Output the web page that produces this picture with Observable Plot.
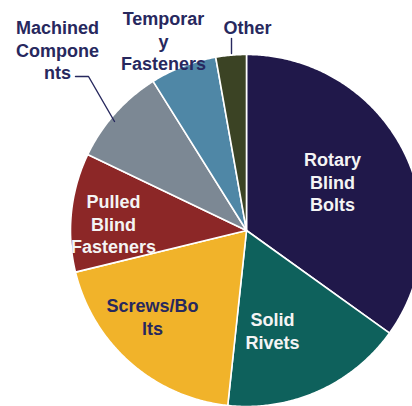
<!DOCTYPE html>
<html>
<head>
<meta charset="utf-8">
<script src="https://cdn.jsdelivr.net/npm/d3@7"></script>
<script src="https://cdn.jsdelivr.net/npm/@observablehq/plot@0.6"></script>
<style>
  html, body { margin: 0; padding: 0; background: #ffffff; }
  #chart { width: 412px; height: 406px; overflow: hidden; }
</style>
</head>
<body>
<div id="chart"></div>
<script>
// ---- data ----
const categories = ["Rotary Blind Bolts", "Solid Rivets", "Screws/Bolts", "Pulled Blind Fasteners", "Machined Components", "Temporary Fasteners", "Other"];
const shares = [34.9, 16.8, 19.5, 10.9, 9.0, 6.1, 2.8];
const labelTexts = ["Rotary\nBlind\nBolts", "Solid\nRivets", "Screws/Bo\nlts", "Pulled\nBlind\nFasteners", "Machined\nCompone\nnts", "Temporar\ny\nFasteners", "Other"];

// ---- styles / layout ----
const sliceColors = ["#20184a", "#0e615c", "#f1b32a", "#8c2727", "#7c8894", "#4f87a6", "#3b4324"];
const labelColors = ["#f4f4f4", "#f4f4f4", "#27285e", "#f4f4f4", "#27285e", "#27285e", "#27285e"];
const labelPos = [[332, 181], [272, 330], [152, 316], [113, 223], [57, 49], [163, 40], [247, 26]];
const leaders = [
  {name: "Machined Components", pts: [[75, 76], [88, 76], [114, 121]]},
  {name: "Other", pts: [[231, 38], [231, 53]]}
];
const W = 412, H = 406;
const cx = 246, cy = 230, R = 176;

const pie = d3.pie().sort(null).value(d => d.share).startAngle(0).endAngle(2 * Math.PI);
const data = categories.map((c, i) => ({category: c, share: shares[i], color: sliceColors[i]}));
const arcs = pie(data);

// slice outline polygons
const poly = [];
arcs.forEach(a => {
  const c = a.data.category;
  poly.push({category: c, x: cx, y: cy});
  const n = Math.max(2, Math.ceil((a.endAngle - a.startAngle) / (Math.PI / 360)));
  for (let k = 0; k <= n; k++) {
    const t = a.startAngle + (a.endAngle - a.startAngle) * k / n;
    poly.push({category: c, x: cx + R * Math.sin(t), y: cy - R * Math.cos(t)});
  }
  poly.push({category: c, x: cx, y: cy});
});

const labels = categories.map((c, i) => ({category: c, text: labelTexts[i], x: labelPos[i][0], y: labelPos[i][1], color: labelColors[i]}));
const leaderPts = leaders.flatMap(l => l.pts.map(p => ({name: l.name, x: p[0], y: p[1]})));

const chart = Plot.plot({
  width: W,
  height: H,
  margin: 0,
  style: {background: "#ffffff"},
  x: {domain: [0, W], range: [0, W], axis: null},
  y: {domain: [0, H], range: [0, H], axis: null},
  color: {domain: categories, range: sliceColors},
  marks: [
    Plot.line(poly, {x: "x", y: "y", z: "category", fill: "category", stroke: "#ffffff", strokeWidth: 1.6, strokeLinejoin: "round", curve: "linear"}),
    Plot.line(leaderPts, {x: "x", y: "y", z: "name", stroke: "#27285e", strokeWidth: 1.4}),
    Plot.text(labels, {x: "x", y: "y", text: "text", fill: d => d.color, fontSize: 18, fontWeight: "bold", fontFamily: "'Liberation Sans', Arial, sans-serif", lineHeight: 1.25, textAnchor: "middle"})
  ]
});
document.getElementById("chart").appendChild(chart);
</script>
</body>
</html>
